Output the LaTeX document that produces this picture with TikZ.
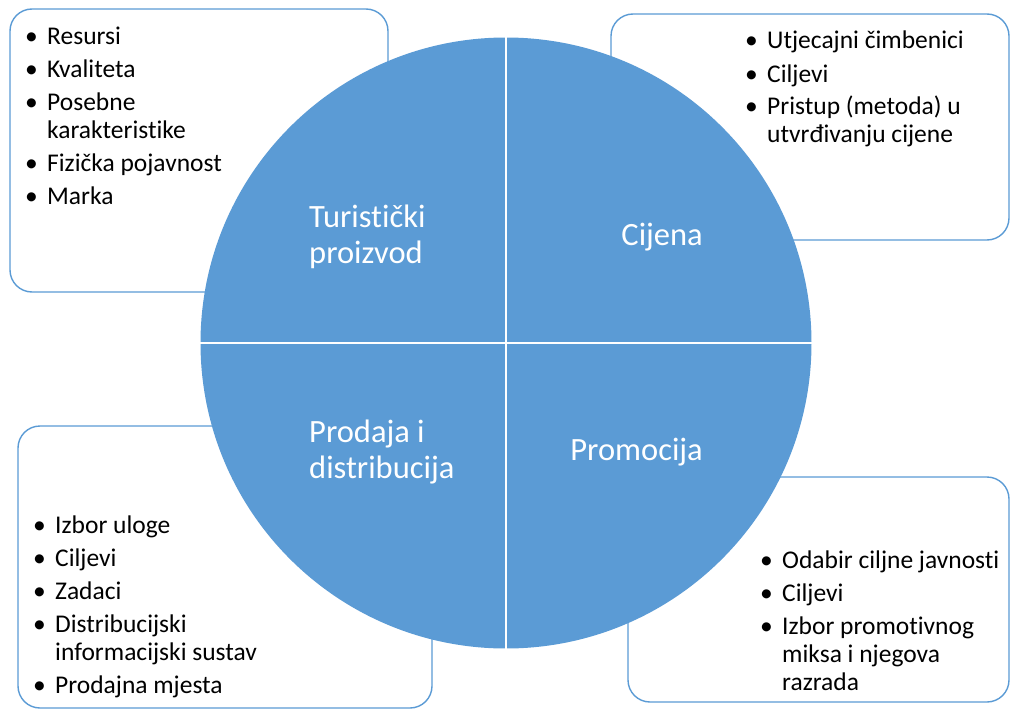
\documentclass[tikz,border=0pt]{standalone}
\usepackage{fontspec}
\setmainfont{Carlito}[Ligatures=NoCommon]
\usepackage{tikz}
\usetikzlibrary{positioning}
\definecolor{quadblue}{RGB}{91,155,213}

\begin{document}
\begin{tikzpicture}[
    x=1pt, y=1pt,
    infobox/.style={draw=quadblue, line width=1.4pt, fill=white, rounded corners=22pt},
    quadrant/.style={fill=quadblue},
    gapline/.style={draw=white, line width=2.2pt},
    quadlabel/.style={inner sep=0pt, text=white, font=\fontsize{32.5}{36}\selectfont},
    itemlist/.style={anchor=base west, inner sep=0pt, font=\fontsize{25.5}{28}\selectfont}
]
\useasboundingbox (0,0) rectangle (1010,-709);

% Boxes
\draw[infobox] (10,-9) rectangle (388,-292);
\draw[infobox] (611,-14) rectangle (1009,-240);
\draw[infobox] (18,-426) rectangle (432,-708);
\draw[infobox] (628,-477) rectangle (1009,-702);

% Circle
\coordinate (c) at (506,-343);
\fill[quadrant] (c) circle (305.5);
\draw[gapline] ([yshift=307pt]c) -- ([yshift=-307pt]c);
\draw[gapline] ([xshift=-307pt]c) -- ([xshift=307pt]c);

% Quadrant labels
\node[quadlabel, anchor=base west] (prod) at (309,-227)
    {\begin{tabular}[t]{@{}l@{}}Turistički\\proizvod\end{tabular}};
\node[quadlabel, anchor=base east] (price) at (703,-245) {Cijena};
\node[quadlabel, anchor=base west] (dist) at (309,-442)
    {\begin{tabular}[t]{@{}l@{}}Prodaja i\\distribucija\end{tabular}};
\node[quadlabel, anchor=base east] (promo) at (703,-460) {Promocija};

% Lists
\node[itemlist] (prodlist) at (25,-45) {\begin{tabular}[t]{@{}p{22pt}@{}l@{}}
  • & Resursi\\[5pt]
  • & Kvaliteta\\[5pt]
  • & Posebne\\
    & karakteristike\\[5pt]
  • & Fizička pojavnost\\[5pt]
  • & Marka
\end{tabular}};
\node[itemlist] (pricelist) at (745,-49) {\begin{tabular}[t]{@{}p{22pt}@{}l@{}}
  • & Utjecajni čimbenici\\[5pt]
  • & Ciljevi\\[5pt]
  • & Pristup (metoda) u\\
    & utvrđivanju cijene
\end{tabular}};
\node[itemlist] (distlist) at (33,-533) {\begin{tabular}[t]{@{}p{22pt}@{}l@{}}
  • & Izbor uloge\\[5pt]
  • & Ciljevi\\[5pt]
  • & Zadaci\\[5pt]
  • & Distribucijski\\
    & informacijski sustav\\[5pt]
  • & Prodajna mjesta
\end{tabular}};
\node[itemlist] (promolist) at (760,-568) {\begin{tabular}[t]{@{}p{22pt}@{}l@{}}
  • & Odabir ciljne javnosti\\[5pt]
  • & Ciljevi\\[5pt]
  • & Izbor promotivnog\\
    & miksa i njegova\\
    & razrada
\end{tabular}};

\end{tikzpicture}
\end{document}
